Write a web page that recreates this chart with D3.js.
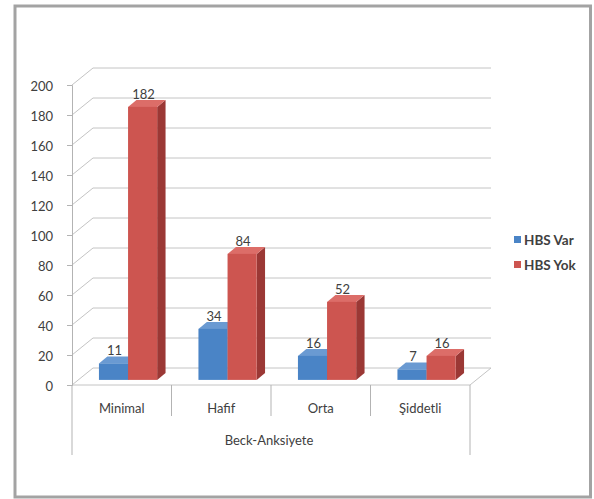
<!DOCTYPE html>
<html>
<head>
<meta charset="utf-8">
<script src="https://cdn.jsdelivr.net/npm/d3@7"></script>
<style>
  html, body { margin: 0; padding: 0; background: #fff; }
  svg { display: block; }
  text { font-family: Lato, "Open Sans", sans-serif; fill: #404040; }
</style>
</head>
<body>
<svg id="chart" width="594" height="499"></svg>
<script>
// Beck anxiety levels, split by HBS presence
const categories = ["Minimal", "Hafif", "Orta", "Şiddetli"];
const seriesNames = ["HBS Var", "HBS Yok"];
const hbsVar = [11, 34, 16, 7];
const hbsYok = [182, 84, 52, 16];
const yTicks = [0, 20, 40, 60, 80, 100, 120, 140, 160, 180, 200];
const axisTitle = "Beck-Anksiyete";

const seriesValues = [hbsVar, hbsYok];
const faceColors = [
  { front: "#4a84c6", side: "#33639c", top: "#6a9ad2" },
  { front: "#cd5550", side: "#9b3835", top: "#dc6d68" }
];

const svg = d3.select("#chart");

// outer frame
svg.append("rect")
  .attr("x", 15).attr("y", 6).attr("width", 575.5).attr("height", 491)
  .attr("fill", "#fff").attr("stroke", "#a3a3a3").attr("stroke-width", 3);

// oblique 3D layout: front plane plus a depth vector going up-right
const floorLeft = 72, floorRight = 470;
const depth = { dx: 21, dy: -17 };
const barFront = 0.3, barBack = 0.7;   // bar depth range as a fraction of the floor depth

const y = d3.scaleLinear().domain([0, 200]).range([385, 85]);
const x0 = d3.scaleBand().domain(categories).range([floorLeft, floorRight])
  .paddingInner(0.415).paddingOuter(0.2075);
const x1 = d3.scaleBand().domain(seriesNames).range([0, x0.bandwidth()]);

const gridColor = "#c4c4c4";

// back-wall gridlines and their diagonals on the side wall
const grid = svg.append("g");
yTicks.forEach(t => {
  const yy = y(t);
  grid.append("line")
    .attr("x1", floorLeft).attr("y1", yy)
    .attr("x2", floorLeft + depth.dx).attr("y2", yy + depth.dy)
    .attr("stroke", gridColor).attr("stroke-width", 1);
  grid.append("line")
    .attr("x1", floorLeft + depth.dx).attr("y1", yy + depth.dy)
    .attr("x2", floorRight + depth.dx).attr("y2", yy + depth.dy)
    .attr("stroke", gridColor).attr("stroke-width", 1);
});

// floor outline
const y0 = y(0);
svg.append("path")
  .attr("d", `M${floorLeft},${y0} L${floorRight},${y0} L${floorRight + depth.dx},${y0 + depth.dy}`)
  .attr("fill", "none").attr("stroke", gridColor).attr("stroke-width", 1);

// bars, drawn left to right so each front face covers its neighbour's side
const bars = svg.append("g");
const labels = svg.append("g");
categories.forEach((cat, ci) => {
  seriesNames.forEach((s, si) => {
    const v = seriesValues[si][ci];
    const c = faceColors[si];
    const bx = x0(cat) + x1(s) + depth.dx * barFront;
    const w = x1.bandwidth();
    const fy0 = y(0) + depth.dy * barFront;
    const fyTop = y(v) + depth.dy * barFront;
    const ddx = depth.dx * (barBack - barFront);
    const ddy = depth.dy * (barBack - barFront);
    // side face
    bars.append("path")
      .attr("d", `M${bx + w},${fy0} L${bx + w + ddx},${fy0 + ddy} L${bx + w + ddx},${fyTop + ddy} L${bx + w},${fyTop} Z`)
      .attr("fill", c.side);
    // top face
    bars.append("path")
      .attr("d", `M${bx},${fyTop} L${bx + w},${fyTop} L${bx + w + ddx},${fyTop + ddy} L${bx + ddx},${fyTop + ddy} Z`)
      .attr("fill", c.top);
    // front face
    bars.append("rect")
      .attr("x", bx).attr("y", fyTop).attr("width", w).attr("height", fy0 - fyTop)
      .attr("fill", c.front);
    // value label
    labels.append("text")
      .attr("x", bx + w / 2 + 1).attr("y", fyTop - 8)
      .attr("text-anchor", "middle").attr("font-size", 13)
      .text(v);
  });
});

// vertical axis
const axisColor = "#b3b3b3";
const yAxis = svg.append("g")
  .attr("transform", `translate(${floorLeft},0)`)
  .call(d3.axisLeft(y).tickValues(yTicks).tickSize(5).tickPadding(14));
yAxis.select(".domain").attr("stroke", axisColor);
yAxis.selectAll(".tick line").attr("stroke", axisColor);
yAxis.selectAll(".tick text").attr("font-size", 13).attr("fill", "#404040")
  .attr("font-family", "Lato, 'Open Sans', sans-serif").attr("dy", "0.4em");

// category axis with an outer group level
const catAxis = svg.append("g");
catAxis.append("line")
  .attr("x1", floorLeft).attr("y1", y0).attr("x2", floorLeft).attr("y2", 455)
  .attr("stroke", axisColor);
catAxis.append("line")
  .attr("x1", floorRight).attr("y1", y0).attr("x2", floorRight).attr("y2", 455)
  .attr("stroke", axisColor);
categories.slice(1).forEach(cat => {
  catAxis.append("line")
    .attr("x1", x0(cat) - x0.step() * x0.paddingOuter()).attr("y1", y0)
    .attr("x2", x0(cat) - x0.step() * x0.paddingOuter()).attr("y2", 416)
    .attr("stroke", axisColor);
});
categories.forEach(cat => {
  catAxis.append("text")
    .attr("x", x0(cat) + x0.bandwidth() / 2).attr("y", 413)
    .attr("text-anchor", "middle").attr("font-size", 13)
    .text(cat);
});
catAxis.append("text")
  .attr("x", (floorLeft + floorRight) / 2 - 2).attr("y", 445)
  .attr("text-anchor", "middle").attr("font-size", 13)
  .text(axisTitle);

// legend
const legend = svg.append("g");
seriesNames.forEach((s, i) => {
  const ly = 240 + i * 25;
  legend.append("rect")
    .attr("x", 514).attr("y", ly - 4).attr("width", 7).attr("height", 7)
    .attr("fill", faceColors[i].front);
  legend.append("text")
    .attr("x", 524).attr("y", ly + 4.5).attr("font-size", 13.5)
    .attr("font-weight", "bold").attr("fill", "#505050")
    .text(s);
});
</script>
</body>
</html>
